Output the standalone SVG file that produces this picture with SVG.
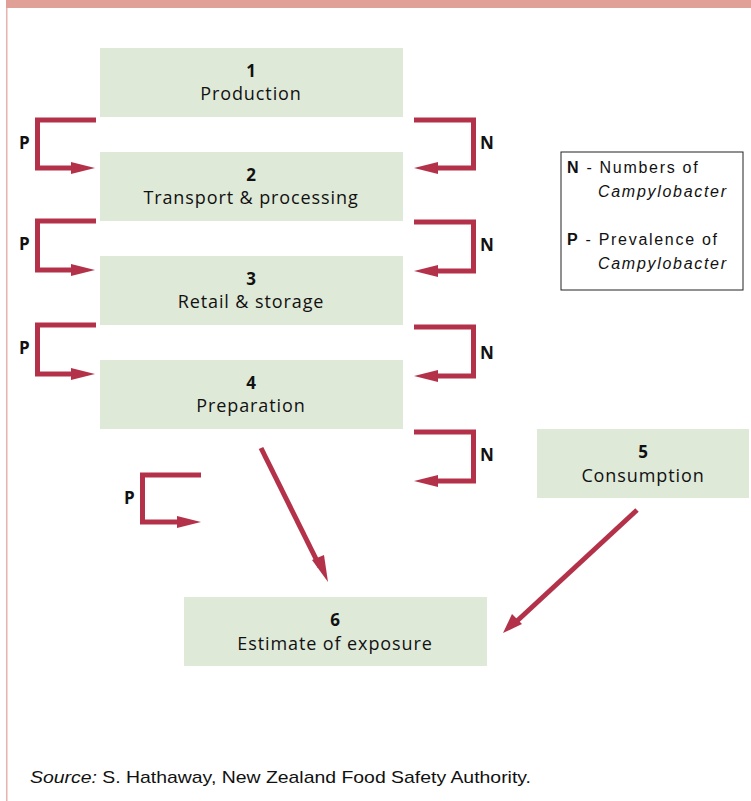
<svg xmlns="http://www.w3.org/2000/svg" width="751" height="801" viewBox="0 0 751 801">
  <style>
    .box { fill: #dfe9d8; }
    .num { font-family: "Open Sans", "DejaVu Sans", sans-serif; font-size: 17px; font-weight: bold; fill: #111; text-anchor: middle; }
    .lbl { font-family: "Open Sans", "DejaVu Sans", sans-serif; font-size: 18px; letter-spacing: 0.9px; fill: #111; text-anchor: middle; }
    .tag { font-family: "Open Sans", "DejaVu Sans", sans-serif; font-size: 17px; font-weight: bold; fill: #111; }
    .leg { font-family: "Liberation Sans", Arial, sans-serif; font-size: 16px; letter-spacing: 1.7px; fill: #111; }
    .it { font-style: italic; }
    .conn { fill: none; stroke: #b3324a; stroke-width: 5; }
    .head { fill: #b3324a; }
  </style>

  <!-- page frame -->
  <rect x="6" y="0" width="745" height="8" fill="#e0a098"/>
  <rect x="6" y="8" width="1.5" height="793" fill="#e8b4ac"/>

  <!-- process steps -->
  <g id="node1">
    <rect class="box" x="100" y="48" width="303" height="69"/>
    <text class="num" x="251" y="77">1</text>
    <text class="lbl" x="251" y="100">Production</text>
  </g>
  <g id="node2">
    <rect class="box" x="100" y="152" width="303" height="69"/>
    <text class="num" x="251" y="181">2</text>
    <text class="lbl" x="251" y="204">Transport &amp; processing</text>
  </g>
  <g id="node3">
    <rect class="box" x="100" y="256" width="303" height="69"/>
    <text class="num" x="251" y="285">3</text>
    <text class="lbl" x="251" y="308">Retail &amp; storage</text>
  </g>
  <g id="node4">
    <rect class="box" x="100" y="360" width="303" height="69"/>
    <text class="num" x="251" y="389">4</text>
    <text class="lbl" x="251" y="412">Preparation</text>
  </g>
  <g id="node5">
    <rect class="box" x="537" y="429" width="212" height="69"/>
    <text class="num" x="643" y="458">5</text>
    <text class="lbl" x="643" y="482">Consumption</text>
  </g>
  <g id="node6">
    <rect class="box" x="184" y="597" width="303" height="69"/>
    <text class="num" x="335" y="626">6</text>
    <text class="lbl" x="335" y="650">Estimate of exposure</text>
  </g>

  <!-- legend -->
  <g id="legend">
    <rect x="561" y="152" width="182" height="138" fill="#fff" stroke="#222" stroke-width="1"/>
    <text class="leg" x="567" y="173"><tspan font-weight="bold">N</tspan> - Numbers of</text>
    <text class="leg it" x="598" y="197">Campylobacter</text>
    <text class="leg" x="567" y="245"><tspan font-weight="bold">P</tspan> - Prevalence of</text>
    <text class="leg it" x="598" y="269">Campylobacter</text>
  </g>

  <!-- connectors -->
  <g id="connectors">
    <!-- prevalence (P) brackets -->
    <path class="conn" d="M96,120 H37.5 V168 H76"/>
    <polygon class="head" points="71,162 95,168 71,174"/>
    <path class="conn" d="M96,221 H37.5 V270 H76"/>
    <polygon class="head" points="71,264 95,270 71,276"/>
    <path class="conn" d="M96,325 H37.5 V374 H76"/>
    <polygon class="head" points="71,368 95,374 71,380"/>
    <path class="conn" d="M201,475 H142.5 V522 H182"/>
    <polygon class="head" points="177,516 201,522 177,528"/>

    <!-- numbers (N) brackets -->
    <path class="conn" d="M414,120 H473.5 V168 H433"/>
    <polygon class="head" points="438,162 414,168 438,174"/>
    <path class="conn" d="M414,222 H473.5 V271 H433"/>
    <polygon class="head" points="438,265 414,271 438,277"/>
    <path class="conn" d="M414,327 H473.5 V376 H433"/>
    <polygon class="head" points="438,370 414,376 438,382"/>
    <path class="conn" d="M414,432 H473.5 V481 H433"/>
    <polygon class="head" points="438,475 414,481 438,487"/>

    <!-- flows into the exposure estimate -->
    <path class="conn" d="M261,448 L320,567"/>
    <polygon class="head" points="312,560 328,582 324,555"/>
    <path class="conn" d="M637,510 L517,621"/>
    <polygon class="head" points="512,614 503,633 522,624"/>

    <text class="tag" x="19" y="149">P</text>
    <text class="tag" x="19" y="250">P</text>
    <text class="tag" x="19" y="354">P</text>
    <text class="tag" x="124" y="504">P</text>
    <text class="tag" x="480" y="149">N</text>
    <text class="tag" x="480" y="251">N</text>
    <text class="tag" x="480" y="359">N</text>
    <text class="tag" x="480" y="461">N</text>
  </g>

  <!-- attribution -->
  <text x="30" y="783" font-family="'Liberation Sans', 'DejaVu Sans', sans-serif" font-size="17" fill="#111" textLength="501" lengthAdjust="spacingAndGlyphs"><tspan font-style="italic">Source:</tspan> S. Hathaway, New Zealand Food Safety Authority.</text>
</svg>
